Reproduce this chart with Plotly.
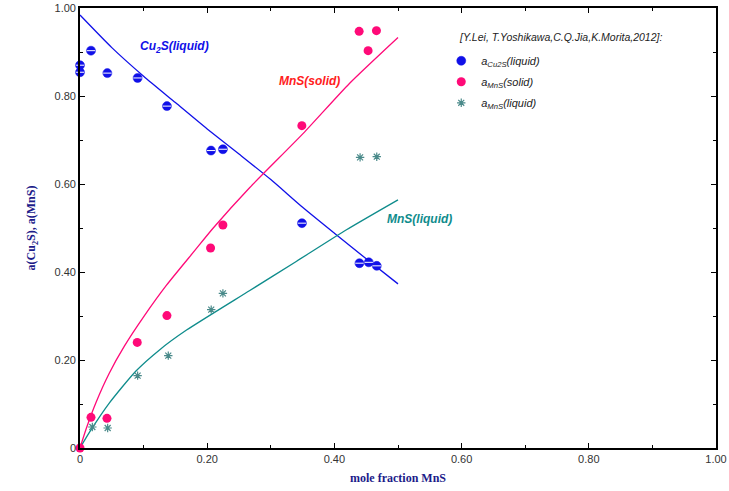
import plotly.graph_objects as go

# ---------------- data ----------------
cu2s_x = [0.0, 0.0, 0.0173, 0.043, 0.0906, 0.1367, 0.206, 0.2247, 0.349, 0.4394, 0.454, 0.4666]
cu2s_y = [0.870, 0.854, 0.903, 0.852, 0.841, 0.777, 0.676, 0.679, 0.511, 0.420, 0.422, 0.414]

mns_s_x = [0.0, 0.0173, 0.0424, 0.090, 0.1367, 0.2053, 0.2247, 0.3488, 0.4389, 0.453, 0.4661]
mns_s_y = [0.0, 0.0697, 0.0674, 0.240, 0.301, 0.4545, 0.5068, 0.7326, 0.947, 0.903, 0.9485]

mns_l_x = [0.0194, 0.0435, 0.0906, 0.1388, 0.2063, 0.2247, 0.4404, 0.4666]
mns_l_y = [0.0477, 0.0455, 0.1644, 0.210, 0.3144, 0.3515, 0.6606, 0.662]

line_cu2s_x = [0.0, 0.05, 0.10, 0.15, 0.20, 0.25, 0.30, 0.35, 0.40, 0.45, 0.50]
line_cu2s_y = [0.984, 0.910, 0.845, 0.785, 0.725, 0.668, 0.610, 0.547, 0.488, 0.430, 0.373]

line_mns_s_x = [0.0, 0.01, 0.025, 0.046, 0.07, 0.10, 0.136, 0.18, 0.2095, 0.267, 0.351, 0.424, 0.50]
line_mns_s_y = [0.0, 0.045, 0.103, 0.170, 0.232, 0.298, 0.370, 0.448, 0.500, 0.592, 0.715, 0.829, 0.933]

line_mns_l_x = [0.0, 0.015, 0.046, 0.088, 0.125, 0.1675, 0.267, 0.340, 0.419, 0.50]
line_mns_l_y = [0.0, 0.036, 0.102, 0.175, 0.223, 0.268, 0.358, 0.424, 0.496, 0.564]

tick_vals = [0, 0.2, 0.4, 0.6, 0.8, 1.0]
tick_text = ["0", "0.20", "0.40", "0.60", "0.80", "1.00"]

source_text = "[Y.Lei, T.Yoshikawa,C.Q.Jia,K.Morita,2012]:"

# ---------------- colours ----------------
BLUE = "#1010e8"
PINK = "#ff0a78"
TEAL = "#0f8c8c"
STAR = "#4a8a8a"
NAVY = "#1c1c8a"

fig = go.Figure()

# model lines
fig.add_trace(go.Scatter(x=line_cu2s_x, y=line_cu2s_y, mode="lines",
                         line=dict(color=BLUE, width=1.3, shape="spline", smoothing=0.6),
                         showlegend=False, hoverinfo="skip"))
fig.add_trace(go.Scatter(x=line_mns_s_x, y=line_mns_s_y, mode="lines",
                         line=dict(color=PINK, width=1.3, shape="spline", smoothing=0.6),
                         showlegend=False, hoverinfo="skip"))
fig.add_trace(go.Scatter(x=line_mns_l_x, y=line_mns_l_y, mode="lines",
                         line=dict(color=TEAL, width=1.3, shape="spline", smoothing=0.6),
                         showlegend=False, hoverinfo="skip"))

# experimental points
fig.add_trace(go.Scatter(x=cu2s_x, y=cu2s_y, mode="markers", cliponaxis=False,
                         name="<i>a<sub>Cu2S</sub>(liquid)</i>", legendgroup="a",
                         marker=dict(symbol="circle", size=9, color=BLUE,
                                     line=dict(color=BLUE, width=0.5))))
fig.add_trace(go.Scatter(x=cu2s_x, y=cu2s_y, mode="markers", cliponaxis=False,
                         showlegend=False, hoverinfo="skip", legendgroup="a",
                         marker=dict(symbol="line-ew", size=6,
                                     line=dict(color="white", width=1.0))))
fig.add_trace(go.Scatter(x=mns_s_x, y=mns_s_y, mode="markers", cliponaxis=False,
                         name="<i>a<sub>MnS</sub>(solid)</i>", legendgroup="b",
                         marker=dict(symbol="circle", size=9, color=PINK)))
fig.add_trace(go.Scatter(x=mns_l_x, y=mns_l_y, mode="markers", cliponaxis=False,
                         name="<i>a<sub>MnS</sub>(liquid)</i>", legendgroup="c",
                         marker=dict(symbol="asterisk-open", size=7, color=STAR,
                                     line=dict(color=STAR, width=1.2))))

# curve labels
lab_font = dict(family="Liberation Sans, Arial, sans-serif", size=12)
fig.add_annotation(x=0.149, y=0.911, text="<b><i>Cu<sub>2</sub>S(liquid)</i></b>",
                   showarrow=False, font=dict(color=BLUE, **lab_font))
fig.add_annotation(x=0.361, y=0.834, text="<b><i>MnS(solid)</i></b>",
                   showarrow=False, font=dict(color="#ff2020", **lab_font))
fig.add_annotation(x=0.534, y=0.520, text="<b><i>MnS(liquid)</i></b>",
                   showarrow=False, font=dict(color=TEAL, **lab_font))

# legend heading (source reference)
fig.add_annotation(xref="paper", yref="paper", x=0.593, y=0.934,
                   xanchor="left", yanchor="middle", showarrow=False,
                   text="<i>" + source_text + "</i>",
                   font=dict(family="Liberation Sans, Arial, sans-serif", size=10.5, color="#222222"))

axis_common = dict(
    range=[0, 1], tickvals=tick_vals, ticktext=tick_text, automargin=False,
    ticks="inside", ticklen=5, tickwidth=1.2, tickcolor="black",
    minor=dict(dtick=0.1, tick0=0, ticks="inside", ticklen=3, tickwidth=1, tickcolor="black"),
    showline=True, linewidth=1.6, linecolor="black", mirror="allticks",
    showgrid=False, zeroline=False,
    tickfont=dict(family="Liberation Sans, Arial, sans-serif", size=11, color="#333333"),
)

fig.update_xaxes(**axis_common,
                 title=dict(text="<b>mole fraction MnS</b>", standoff=10,
                            font=dict(family="Liberation Serif, Times New Roman, serif",
                                      size=12, color=NAVY)))
fig.update_yaxes(**axis_common,
                 title=dict(text="<b>a(Cu<sub>2</sub>S), a(MnS)</b>", standoff=16,
                            font=dict(family="Liberation Serif, Times New Roman, serif",
                                      size=12, color=NAVY)))

fig.update_layout(
    width=729, height=491,
    margin=dict(l=80, r=12.5, t=8, b=43),
    paper_bgcolor="white", plot_bgcolor="white",
    showlegend=True,
    legend=dict(
        x=0.568, y=0.913, xanchor="left", yanchor="top",
        bgcolor="rgba(0,0,0,0)", borderwidth=0,
        font=dict(family="Liberation Sans, Arial, sans-serif", size=11, color="#222222"),
        tracegroupgap=2, itemwidth=30,
    ),
)

fig.write_html("out.html")
